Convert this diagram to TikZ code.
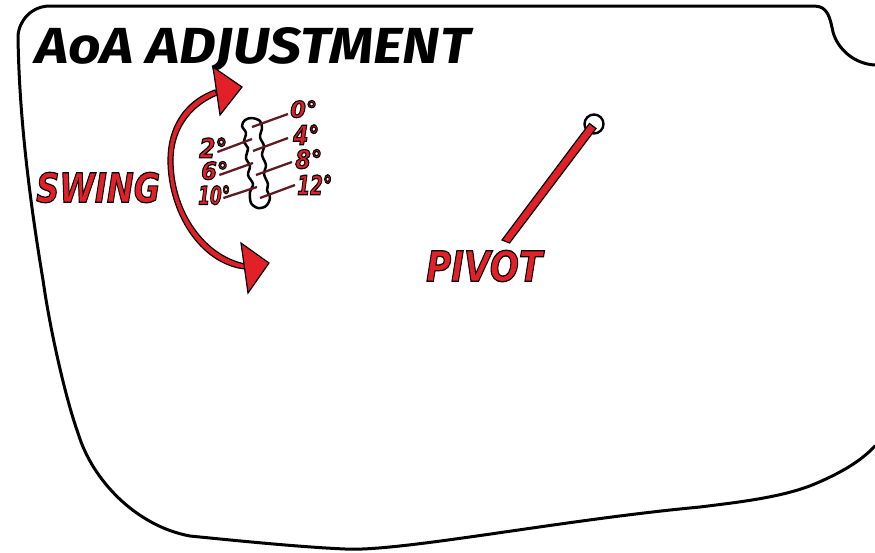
\documentclass[tikz,border=0pt]{standalone}
\usepackage{fontspec}
\setmainfont{Fira Sans}
\newfontfamily\titlefont[UprightFont=* Bold Italic]{Fira Sans}
\newfontfamily\bigfont[UprightFont=* Bold Oblique,FakeBold=3]{DejaVu Sans}
\newfontfamily\smallfont[UprightFont=* Bold Oblique,FakeBold=4.5]{DejaVu Sans}
\definecolor{armred}{RGB}{226,32,40}
\definecolor{leader}{RGB}{96,26,32}
% red fill with a black stroke: FakeBold strokes the glyphs, RG makes that stroke black
\newcommand{\outlined}[4]{\resizebox{#2}{#3}{#1\color{armred}\special{pdf:code 0 0 0 RG}#4}}
\tikzset{
 panel/.style={line width=3pt,black,line cap=round,line join=round},
 redshape/.style={draw=black,fill=armred,line width=1.2pt,line join=miter},
 leaderline/.style={draw=leader,line width=2.3pt},
 lab/.style={inner sep=0pt,anchor=south west},
 slot/.style={draw=black,fill=white,line width=2.5pt,line join=round}
}
\begin{document}
\begin{tikzpicture}[x=1pt,y=-1pt]
\useasboundingbox (0,0) rectangle (875,552);
\draw[panel] (875,65) .. controls (855,64) and (838,50) .. (833,32)
 .. controls (830,18) and (828,6) .. (814,6) -- (50,6)
 .. controls (32,6) and (19,20) .. (18,36)
 .. controls (19,110) and (28,190) .. (43,280)
 .. controls (50,330) and (66,400) .. (78,433)
 .. controls (92,480) and (136,526) .. (190,536)
 .. controls (240,541) and (300,547) .. (345,549)
 .. controls (400,552) and (560,520) .. (700,507)
 .. controls (740,502) and (785,497) .. (817,483)
 .. controls (840,473) and (860,462) .. (875,446);
\node[lab,anchor=base west] (title) at (35,63) {\titlefont\color{black}\resizebox{435pt}{36pt}{AoA ADJUSTMENT}};
% swing arrow
\path[redshape] (215,90) .. controls (182,102) and (168,130) .. (168,160)
 .. controls (168,212) and (200,264) .. (245,269) -- (245,264)
 .. controls (205,256) and (173,212) .. (173,160)
 .. controls (173,132) and (188,107) .. (217,95) -- cycle;
\path[redshape] (213,67) -- (242,87) -- (220,115) -- cycle;
\path[redshape] (241,243) -- (269,263) -- (248,293) -- cycle;
\node[lab] (swing) at (36,203) {\outlined{\bigfont}{124pt}{30pt}{SWING}};
% slot
\path[slot] plot[smooth cycle,tension=0.55] coordinates {(252,118) (260,121) (262,128) (260,137) (264,146) (262,155) (266,165) (264,174) (268,184) (267,190) (270,198) (266,206) (258,208) (251,203) (250,192) (253,184) (248,175) (250,166) (246,158) (248,148) (244,142) (246,133) (242,126) (245,120)};
\coordinate (s0) at (252,127);
\coordinate (s2) at (252,139);
\coordinate (s4) at (253,151);
\coordinate (s6) at (253,163);
\coordinate (s8) at (256,175);
\coordinate (s10) at (257,187);
\coordinate (s12) at (260,198);
\node[lab] (d0) at (290,118) {\outlined{\smallfont}{27pt}{17pt}{0°}};
\node[lab] (d4) at (293,145) {\outlined{\smallfont}{26pt}{20pt}{4°}};
\node[lab] (d8) at (295,169) {\outlined{\smallfont}{27pt}{19pt}{8°}};
\node[lab] (d12) at (297,195) {\outlined{\smallfont}{35pt}{20pt}{12°}};
\node[lab] (d2) at (199,158) {\outlined{\smallfont}{28pt}{20pt}{2°}};
\node[lab] (d6) at (201,180) {\outlined{\smallfont}{27pt}{18pt}{6°}};
\node[lab] (d10) at (198,205) {\outlined{\smallfont}{32pt}{19pt}{10°}};
\draw[leaderline] (s0) -- ([shift={(-2,-4)}]d0.south west);
\draw[leaderline] (s4) -- ([shift={(-5,-7)}]d4.south west);
\draw[leaderline] (s8) -- ([shift={(-3,-7)}]d8.south west);
\draw[leaderline] (s12) -- ([shift={(-2,-10)}]d12.south west);
\draw[leaderline] ([shift={(-10,-6)}]d2.south east) -- (s2);
\draw[leaderline] ([shift={(-9,-5)}]d6.south east) -- (s6);
\draw[leaderline] ([shift={(-7,-7)}]d10.south east) -- (s10);
% pivot
\node[draw=black,line width=2.4pt,circle,fill=white,minimum size=19pt,inner sep=0pt] (hole) at (594,124) {};
\path[redshape] (589.5,123.5) -- (596,128.5) -- (509.5,243) -- (502,240) -- cycle;
\node[lab] (pivot) at (426,282) {\outlined{\bigfont}{116pt}{31pt}{PIVOT}};
\end{tikzpicture}
\end{document}
